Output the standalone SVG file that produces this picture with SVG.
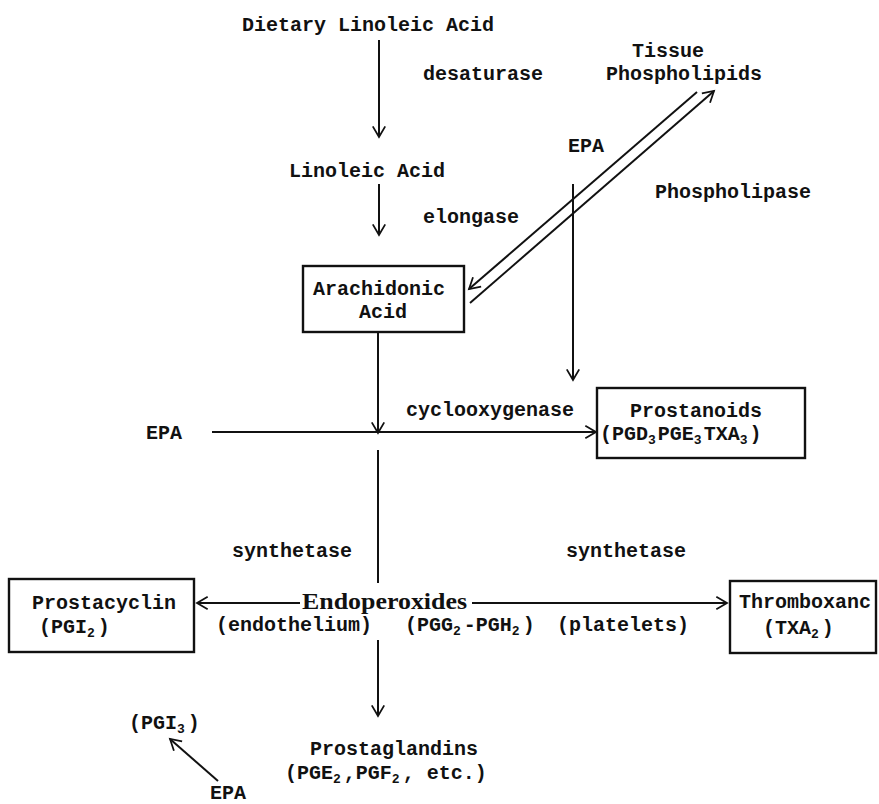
<svg xmlns="http://www.w3.org/2000/svg" width="879" height="804" viewBox="0 0 879 804">
<defs>
<style>
text{font-family:"Liberation Mono","DejaVu Sans Mono",monospace;font-size:20px;font-weight:bold;fill:#111}
.sub{font-size:13px}
.box{fill:#fff;stroke:#111;stroke-width:2.4}
.ln{stroke:#111;stroke-width:2;fill:none}
.endo{font-family:"Liberation Serif","Times New Roman",serif;font-size:23px;font-weight:bold}
</style>
<marker id="ah" markerUnits="userSpaceOnUse" markerWidth="16" markerHeight="16" refX="12" refY="7" orient="auto" viewBox="-2 -2 16 18">
<path d="M0,0 L12,7 L0,14" fill="none" stroke="#111" stroke-width="2"/>
</marker>
</defs>
<rect width="879" height="804" fill="#fff"/>

<g id="connectors">
<line class="ln" x1="379" y1="40" x2="379" y2="137" marker-end="url(#ah)"/>
<line class="ln" x1="379" y1="184" x2="379" y2="235" marker-end="url(#ah)"/>
<line class="ln" x1="697" y1="92" x2="469" y2="289" marker-end="url(#ah)"/>
<line class="ln" x1="470" y1="303" x2="714" y2="91" marker-end="url(#ah)"/>
<line class="ln" x1="573" y1="184" x2="573" y2="380" marker-end="url(#ah)"/>
<line class="ln" x1="378" y1="332" x2="378" y2="433" marker-end="url(#ah)"/>
<line class="ln" x1="212" y1="432" x2="596" y2="432" marker-end="url(#ah)"/>
<line class="ln" x1="378" y1="450" x2="378" y2="583"/>
<line class="ln" x1="300" y1="603" x2="197" y2="603" marker-end="url(#ah)"/>
<line class="ln" x1="472" y1="603" x2="727" y2="603" marker-end="url(#ah)"/>
<line class="ln" x1="378" y1="640" x2="378" y2="716" marker-end="url(#ah)"/>
<line class="ln" x1="218" y1="781" x2="170" y2="739" marker-end="url(#ah)"/>
<text x="423" y="80">desaturase</text>
<text x="423" y="223">elongase</text>
<text x="655" y="198">Phospholipase</text>
<text x="406" y="416">cyclooxygenase</text>
<text x="232" y="557">synthetase</text>
<text x="566" y="557">synthetase</text>
<text x="216" y="631">(endothelium)</text>
<text x="557" y="631">(platelets)</text>
</g>

<g id="n-dietary"><text x="242" y="31">Dietary Linoleic Acid</text></g>
<g id="n-linoleic"><text x="289" y="177">Linoleic Acid</text></g>
<g id="n-arachidonic">
<rect class="box" x="303" y="266" width="161" height="66"/>
<text x="313" y="295">Arachidonic</text>
<text x="359" y="318">Acid</text>
</g>
<g id="n-tissue">
<text x="632" y="57">Tissue</text>
<text x="606" y="80">Phospholipids</text>
</g>
<g id="n-epa-top"><text x="568" y="152">EPA</text></g>
<g id="n-epa-left"><text x="146" y="439">EPA</text></g>
<g id="n-prostanoids">
<rect class="box" x="597" y="388" width="208" height="70"/>
<text x="630" y="417">Prostanoids</text>
<text x="600" y="440">(PGD<tspan class="sub" dy="4">3</tspan><tspan dy="-4" dx="2">PGE</tspan><tspan class="sub" dy="4">3</tspan><tspan dy="-4" dx="2">TXA</tspan><tspan class="sub" dy="4">3</tspan><tspan dy="-4" dx="2">)</tspan></text>
</g>
<g id="n-endoperoxides">
<text class="endo" x="302" y="609" textLength="165" lengthAdjust="spacingAndGlyphs">Endoperoxides</text>
<text x="405" y="631">(PGG<tspan class="sub" dy="4">2</tspan><tspan dy="-4" dx="3">-PGH</tspan><tspan class="sub" dy="4">2</tspan><tspan dy="-4" dx="3">)</tspan></text>
</g>
<g id="n-prostacyclin">
<rect class="box" x="9" y="579" width="185" height="73"/>
<text x="32" y="609">Prostacyclin</text>
<text x="39" y="633">(PGI<tspan class="sub" dy="4">2</tspan><tspan dy="-4" dx="3">)</tspan></text>
</g>
<g id="n-thromboxane">
<rect class="box" x="730" y="581" width="146" height="72"/>
<text x="739" y="608">Thromboxanc</text>
<text x="763" y="634">(TXA<tspan class="sub" dy="4">2</tspan><tspan dy="-4" dx="3">)</tspan></text>
</g>
<g id="n-prostaglandins">
<text x="310" y="755">Prostaglandins</text>
<text x="285" y="779">(PGE<tspan class="sub" dy="4">2</tspan><tspan dy="-4" dx="3">,PGF</tspan><tspan class="sub" dy="4">2</tspan><tspan dy="-4" dx="3">, etc.)</tspan></text>
</g>
<g id="n-pgi3"><text x="129" y="729">(PGI<tspan class="sub" dy="4">3</tspan><tspan dy="-4" dx="3">)</tspan></text></g>
<g id="n-epa-bottom"><text x="210" y="799">EPA</text></g>
</svg>
